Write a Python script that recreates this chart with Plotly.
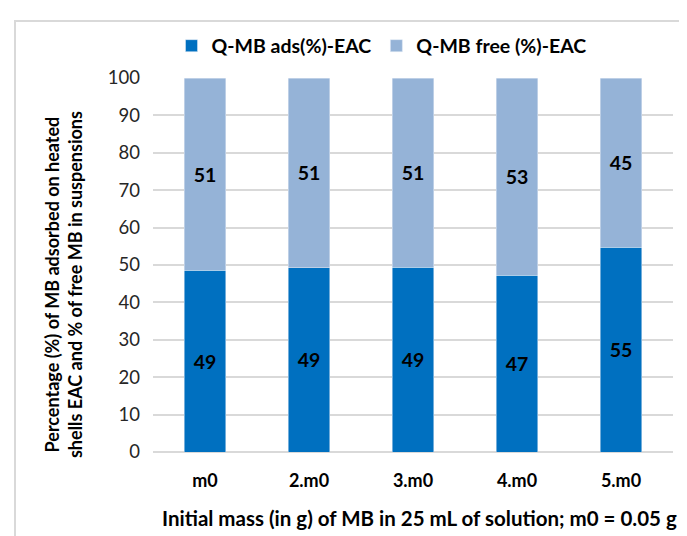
import plotly.graph_objects as go

categories = ["m0", "2.m0", "3.m0", "4.m0", "5.m0"]
mb_ads = [48.6, 49.2, 49.4, 47.3, 54.8]
mb_free = [51.4, 50.8, 50.6, 52.7, 45.2]
y_ticks = list(range(0, 101, 10))

FONT = "Lato"

fig = go.Figure()
fig.add_trace(go.Bar(
    x=categories, y=mb_ads, name="Q-MB ads(%)-EAC",
    marker=dict(color="#0070C0"),
    texttemplate="%{y:.0f}", textposition="inside", insidetextanchor="middle",
    textfont=dict(family=FONT, size=19.5, color="black", weight="bold"),
))
fig.add_trace(go.Bar(
    x=categories, y=mb_free, name="Q-MB free (%)-EAC",
    marker=dict(color="#95B3D7"),
    texttemplate="%{y:.0f}", textposition="inside", insidetextanchor="middle",
    textfont=dict(family=FONT, size=19.5, color="black", weight="bold"),
))

fig.update_layout(
    barmode="stack", bargap=0.6,
    width=687, height=536,
    margin=dict(l=145, r=22, t=70, b=92),
    paper_bgcolor="white", plot_bgcolor="white",
    font=dict(family=FONT, size=18, color="#262626"),
    showlegend=True,
    legend=dict(orientation="h", traceorder="normal", x=0.0356, xanchor="left",
                y=1.0856, yanchor="middle",
                font=dict(family=FONT, size=19.5, color="black", weight="bold"),
                bgcolor="rgba(0,0,0,0)"),
    uniformtext=dict(mode="show", minsize=10),
)
fig.update_xaxes(showgrid=False, showline=False, ticks="", ticklabelstandoff=16,
                 tickfont=dict(family=FONT, size=18, color="black", weight="bold"))
fig.update_yaxes(range=[0, 100], tickvals=y_ticks, showgrid=True, gridcolor="#D9D9D9",
                 gridwidth=1.5, zeroline=True, zerolinecolor="#D9D9D9", zerolinewidth=1.5,
                 showline=False, ticks="", ticklabelstandoff=12,
                 tickfont=dict(family=FONT, size=18.5, color="#262626"))

fig.add_annotation(
    text="Percentage (%) of MB adsorbed on heated<br>shells EAC and % of free MB in suspensions",
    xref="paper", yref="paper", x=-0.173, y=0.4465, xanchor="center", yanchor="middle",
    textangle=-90, showarrow=False,
    font=dict(family=FONT, size=18, color="black", weight="bold"),
)
fig.add_annotation(
    text="Initial mass (in g) of MB in 25 mL of solution; m0 = 0.05 g",
    xref="paper", yref="paper", x=0.5125, y=-0.1765, xanchor="center", yanchor="middle",
    showarrow=False,
    font=dict(family=FONT, size=20.5, color="black", weight="bold"),
)
fig.add_shape(type="rect", xref="paper", yref="paper",
              x0=-0.2654, y0=-0.3, x1=1.08, y1=1.1524,
              line=dict(color="#D9D9D9", width=2), layer="below")

fig.write_html("out.html")
